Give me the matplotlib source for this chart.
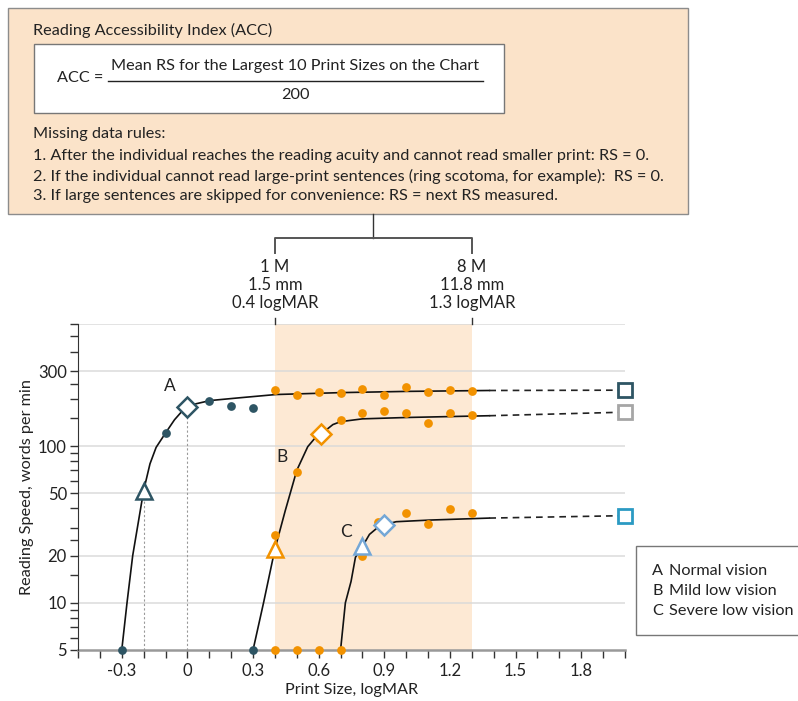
import matplotlib
matplotlib.use("Agg")
import matplotlib.pyplot as plt
import matplotlib.transforms as mtransforms
from matplotlib.patches import Rectangle
from matplotlib.ticker import FixedLocator, NullFormatter

plt.rcParams['font.family'] = ['Liberation Sans Narrow', 'Lato', 'DejaVu Sans']
FS = 11.7

# measured reading speeds (RS = 0 is drawn on the floor of the axis, 5)
a_size = [-0.3, -0.1, 0.1, 0.2, 0.3, 0.4, 0.5, 0.6, 0.7, 0.8, 0.9, 1.0, 1.1, 1.2, 1.3]
a_rs = [5, 121, 195, 180, 174, 227, 212, 221, 218, 231, 212, 237, 222, 229, 223]
b_size = [0.3, 0.4, 0.5, 0.6, 0.7, 0.8, 0.9, 1.0, 1.1, 1.2, 1.3]
b_rs = [5, 27, 68, 112, 147, 162, 166, 162, 141, 162, 157]
c_size = [0.4, 0.5, 0.6, 0.7, 0.8, 0.87, 1.0, 1.1, 1.2, 1.3]
c_rs = [5, 5, 5, 5, 20, 33, 37.5, 31.7, 39.4, 37.5]

# fitted curves
a_fit_x = [-0.3, -0.276, -0.25, -0.2, -0.171, -0.143, -0.1, -0.059, -0.029, 0.0, 0.04, 0.104,
           0.238, 0.405, 0.7, 1.0, 1.38]
a_fit_rs = [5, 10, 20, 52, 77, 98, 121, 147, 164, 177, 186, 195, 203, 213, 219, 223, 226]
b_fit_x = [0.3, 0.348, 0.4, 0.447, 0.5, 0.55, 0.58, 0.61, 0.665, 0.7, 0.8, 1.0, 1.38]
b_fit_rs = [5, 10, 22, 38.6, 70, 99, 111, 119, 137, 143, 149, 152, 156]
c_fit_x = [0.7, 0.722, 0.748, 0.768, 0.797, 0.832, 0.878, 0.954, 1.107, 1.38]
c_fit_rs = [5, 10, 13.7, 19.5, 22.5, 27.3, 30.9, 32.9, 33.7, 34.7]

# extrapolated (dashed) part and ACC squares
dash_x = [1.38, 1.97]
a_dash = [226, 227]
b_dash = [156, 164]
c_dash = [34.7, 35.9]
acc_x = 2.0
acc_rs = [227, 164, 35.9]

# critical print size (diamond) and reading acuity (triangle)
cps_x = [0.0, 0.61, 0.898]
cps_rs = [177, 119, 31.4]
ra_x = [-0.2, 0.4, 0.797]
ra_rs = [52, 22, 23]

labels = ['A', 'B', 'C']
label_x = [-0.08, 0.434, 0.727]
label_rs = [240, 85, 28.3]
legend_names = ['Normal vision', 'Mild low vision', 'Severe low vision']

x_ticks = [-0.3, 0, 0.3, 0.6, 0.9, 1.2, 1.5, 1.8]
x_tick_labels = ['-0.3', '0', '0.3', '0.6', '0.9', '1.2', '1.5', '1.8']
y_ticks = [5, 10, 20, 50, 100, 300]
y_minor = [6, 7, 8, 9, 15, 25, 30, 40, 60, 70, 80, 90, 150, 200, 250, 400, 500, 600]

slate = '#2e5564'
orange = '#f29200'
lblue = '#74a7d6'
sq_colors = [slate, '#a6a6a6', '#2b9ac3']
marker_colors = [slate, orange, lblue]
band = '#fde9d4'
boxfill = '#fbe3c9'
txt = '#222222'

fig = plt.figure(figsize=(7.98, 7.01), dpi=100)
ax = fig.add_axes([78 / 798, 51 / 701, 547 / 798, 326 / 701])
ax.set_yscale('log')
ax.set_xlim(-0.5, 2.0)
ax.set_ylim(5, 600)

ax.axvspan(0.4, 1.3, color=band, zorder=0, lw=0)
for v in [10, 20, 50, 100, 300, 600]:
    ax.axhline(v, color='#d9d9d9', lw=1.3, zorder=0.5, alpha=0.8)

# dotted guides
ax.plot([ra_x[0], ra_x[0]], [5, ra_rs[0]], color='#999999', lw=0.8, ls=(0, (2, 2)), zorder=1)
ax.plot([cps_x[0], cps_x[0]], [5, cps_rs[0]], color='#999999', lw=0.8, ls=(0, (2, 2)), zorder=1)

for fx, fy, dy in [(a_fit_x, a_fit_rs, a_dash), (b_fit_x, b_fit_rs, b_dash), (c_fit_x, c_fit_rs, c_dash)]:
    ax.plot(fx, fy, color='#111111', lw=1.2, zorder=3, solid_joinstyle='round')
    ax.plot(dash_x, dy, color='#222222', lw=1.2, ls=(0, (4, 3)), zorder=3)

for xs, ys in [(a_size, a_rs), (b_size, b_rs), (c_size, c_rs)]:
    for x, y in zip(xs, ys):
        col = orange if 0.39 <= x <= 1.31 else slate
        ax.plot(x, y, 'o', color=col, ms=6.3, mec='none', zorder=4, clip_on=False)

for i in range(3):
    ax.plot(ra_x[i], ra_rs[i], '^', ms=11, mfc='white', mec=marker_colors[i], mew=1.8, zorder=5)
    ax.plot(cps_x[i], cps_rs[i], 'D', ms=10.5, mfc='white', mec=marker_colors[i], mew=1.8, zorder=5)
    ax.plot(acc_x, acc_rs[i], 's', ms=10, mfc='white', mec=sq_colors[i], mew=2, zorder=5, clip_on=False)
    ax.text(label_x[i], label_rs[i], labels[i], fontsize=12.5, color=txt, ha='center', va='center')

for s in ['top', 'right']:
    ax.spines[s].set_visible(False)
ax.spines['left'].set_color('#333333')
ax.spines['bottom'].set_color('#999999')
ax.spines['bottom'].set_linewidth(1.8)
ax.spines['bottom'].set_zorder(2)

ax.xaxis.set_major_locator(FixedLocator(x_ticks))
ax.set_xticklabels(x_tick_labels)
ax.xaxis.set_minor_locator(FixedLocator([i / 10 for i in range(-5, 21)]))
ax.yaxis.set_major_locator(FixedLocator(y_ticks))
ax.set_yticklabels([str(v) for v in y_ticks])
ax.yaxis.set_minor_locator(FixedLocator(y_minor))
ax.yaxis.set_minor_formatter(NullFormatter())
ax.tick_params(which='both', direction='out', length=6, width=1, color='#333333',
               labelsize=12, labelcolor=txt)
ax.tick_params(axis='y', which='major', pad=2)
ax.tick_params(axis='x', which='major', pad=3)
ax.set_xlabel('Print Size, logMAR', fontsize=FS, color=txt, labelpad=3)
ax.set_ylabel('Reading Speed, words per min', fontsize=FS, color=txt, labelpad=3)

# overlay in figure pixels
ov = fig.add_axes([0, 0, 1, 1], zorder=5)
ov.set_xlim(0, 798)
ov.set_ylim(701, 0)
ov.axis('off')
mix = mtransforms.blended_transform_factory(ax.transData, ov.transData)

ov.add_patch(Rectangle((8, 8), 680, 206, fc=boxfill, ec='#8c8c8c', lw=1))
ov.add_patch(Rectangle((34, 44), 470, 69, fc='white', ec='#777777', lw=1))
ov.text(33, 30, 'Reading Accessibility Index (ACC)', fontsize=FS, color=txt, va='center')
ov.text(57, 78, 'ACC =', fontsize=FS, color=txt, va='center')
ov.text(295, 66, 'Mean RS for the Largest 10 Print Sizes on the Chart', fontsize=FS, color=txt,
        ha='center', va='center')
ov.plot([108, 483], [81, 81], color='#222222', lw=1)
ov.text(295, 95, '200', fontsize=FS, color=txt, ha='center', va='center')
ov.text(33, 134, 'Missing data rules:', fontsize=FS, color=txt, va='center')
rules = ['1. After the individual reaches the reading acuity and cannot read smaller print: RS = 0.',
         '2. If the individual cannot read large-print sentences (ring scotoma, for example):  RS = 0.',
         '3. If large sentences are skipped for convenience: RS = next RS measured.']
for k, r in enumerate(rules):
    ov.text(33, 156 + 20 * k, r, fontsize=FS, color=txt, va='center')

# bracket to the shaded print sizes
ov.plot([0.85, 0.85], [214, 238], color='#333333', lw=1, transform=mix)
ov.plot([0.4, 0.4, 1.3, 1.3], [253, 238, 238, 253], color='#555555', lw=1.4, transform=mix)
for x in [0.4, 1.3]:
    ov.plot([x, x], [318, 324], color='#333333', lw=1, transform=mix)
for x, lines in [(0.4, ['1 M', '1.5 mm', '0.4 logMAR']), (1.3, ['8 M', '11.8 mm', '1.3 logMAR'])]:
    for k, t in enumerate(lines):
        ov.text(x, 267 + 18 * k, t, fontsize=12, color=txt, ha='center', va='center', transform=mix)

# legend
ov.add_patch(Rectangle((636, 546), 170, 89, fc='white', ec='#777777', lw=1, clip_on=False))
for k in range(3):
    ov.text(652, 571 + 20 * k, labels[k], fontsize=FS, color=txt, va='center')
    ov.text(669, 571 + 20 * k, legend_names[k], fontsize=FS, color=txt, va='center')

fig.savefig('out.png', dpi=100)
